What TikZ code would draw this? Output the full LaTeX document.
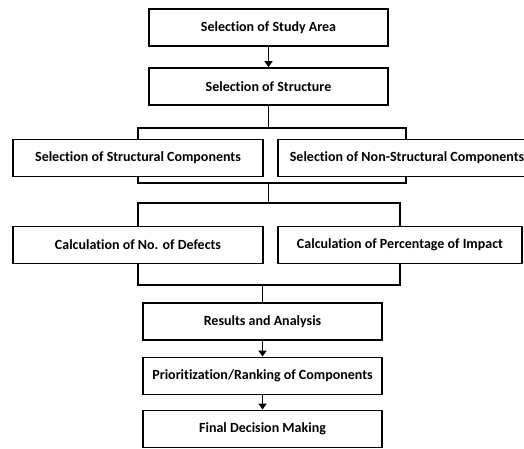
\documentclass[tikz,border=0pt]{standalone}
\usepackage{fontspec}
\setmainfont{Carlito}[Ligatures=NoCommon]
\usetikzlibrary{arrows.meta}
\begin{document}
\begin{tikzpicture}[x=1pt,y=-1pt,
		stepbox/.style={draw,line width=1.8pt,minimum height=37pt,inner sep=0pt,
		font=\fontsize{14}{16}\selectfont\bfseries},
		link/.style={line width=1.8pt},
		arr/.style={line width=1.8pt,-{Triangle[width=8pt,length=6pt]}}]
		\useasboundingbox (0,0) rectangle (524,448);
		
		\node[stepbox,minimum width=239pt](area) at (268.5,27.5){Selection of Study Area};
		\node[stepbox,minimum width=239pt](struct) at (268.5,86.5){Selection of Structure};
		
		\node[stepbox,minimum width=250pt](scomp) at (138,158){Selection of Structural Components};
		\node[stepbox,minimum width=258pt](ncomp) at (407,158){Selection of Non-Structural Components};
		
		\node[stepbox,minimum width=250pt](defect) at (138,245){Calculation of No. of Defects};
		\node[stepbox,minimum width=244pt](impact) at (400,245){Calculation of Percentage of Impact};
		
		\node[stepbox,minimum width=239pt](result) at (262.5,321.5){Results and Analysis};
		\node[stepbox,minimum width=239pt](rank) at (262.5,376){Prioritization/Ranking of Components};
		\node[stepbox,minimum width=239pt](final) at (262.5,429){Final Decision Making};
		
		% junctions
		\coordinate (j1) at (268.5,128);
		\coordinate (j2) at (268.5,183);
		\coordinate (j3) at (268.5,203);
		\coordinate (j4) at (262.5,285);
		
		\draw[arr](area)--(struct);
		\draw[link](struct)--(j1);
		\draw[link](j1)-|(scomp.north);
		\draw[link](j1)-|([xshift=-1pt]ncomp.north);
		
		\draw[link](scomp.south)|-(j2)-|([xshift=-1pt]ncomp.south);
		\draw[link](j2)--(j3);
		\draw[link](j3)-|(defect.north);
		\draw[link](j3)-|(impact.north);
		
		\draw[link](defect.south)|-(j4)-|(impact.south);
		\draw[link](j4)--(result);
		\draw[arr](result)--(rank);
		\draw[arr](rank)--(final);
\end{tikzpicture}
\end{document}
